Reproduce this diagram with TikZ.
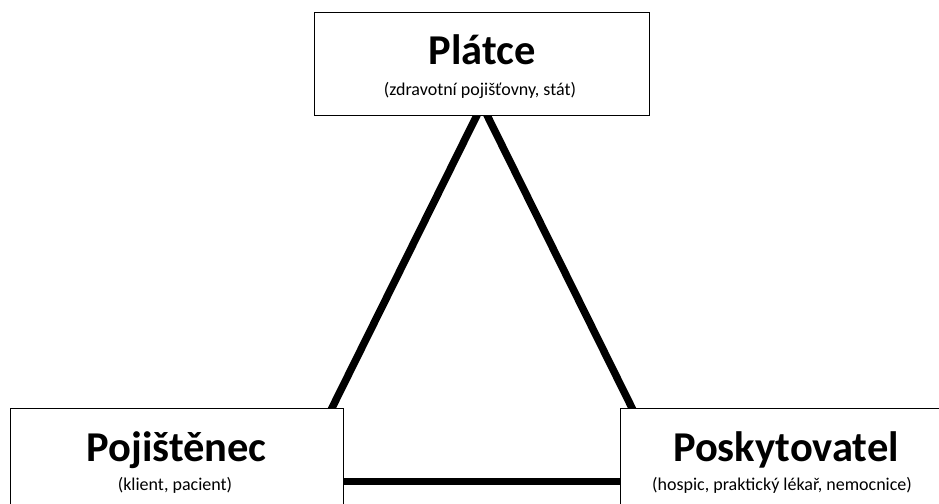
\documentclass[tikz,border=0pt]{standalone}
\usepackage{fontspec}
\setmainfont{Carlito}
\usetikzlibrary{backgrounds}
\begin{document}
\begin{tikzpicture}[x=1pt,y=-1pt,
  box/.style={draw=black,line width=1pt,fill=white,rectangle,inner sep=0pt},
  title/.style={anchor=base,inner sep=0pt,font=\fontsize{42.5}{44}\selectfont\bfseries},
  subtitle/.style={anchor=base,inner sep=0pt,font=\fontsize{18}{20}\selectfont},
  link/.style={line width=7.5pt,black}]
\useasboundingbox (0,0) rectangle (939,503);
% boxes
\node[box,minimum width=334.3pt,minimum height=102.7pt] (platce) at (481.9,64.35) {};
\node[box,minimum width=333pt,minimum height=103pt] (pojistenec) at (176.5,459.5) {};
\node[box,minimum width=326.6pt,minimum height=103pt] (poskytovatel) at (784,459.5) {};
% texts
\node[title] (t1) at (481.9,65) {Plátce};
\node[subtitle] (s1) at (480,95.5) {(zdravotní pojišťovny, stát)};
\node[title] (t2) at (176.5,461.7) {Pojištěnec};
\node[subtitle] (s2) at (175,490) {(klient, pacient)};
\node[title] (t3) at (786,461.7) {Poskytovatel};
\node[subtitle] (s3) at (782,490) {(hospic, praktický lékař, nemocnice)};
% connector anchors
\coordinate (apex) at (482,105);
\coordinate (pl) at (328.5,415);
\coordinate (pr) at (635.5,415);
\coordinate (hl) at (300,481.7);
\coordinate (hr) at (660,481.7);
\begin{pgfonlayer}{background}
\draw[link] (pl) -- (apex) -- (pr);
\draw[link] (hl) -- (hr);
\end{pgfonlayer}
\end{tikzpicture}
\end{document}
